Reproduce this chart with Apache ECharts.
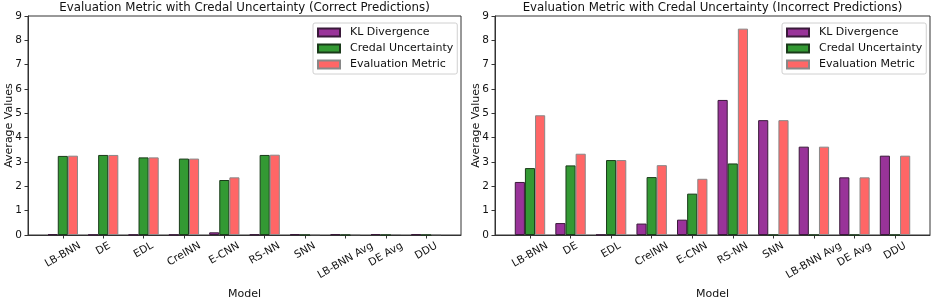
<!DOCTYPE html>
<html>
<head>
<meta charset="utf-8">
<script src="https://cdn.jsdelivr.net/npm/echarts@6/dist/echarts.min.js"></script>
<style>
html,body{margin:0;padding:0;background:#fff;}
#c{width:934px;height:302px;}
</style>
</head>
<body>
<div id="c"></div>
<script>
const categories = ['LB-BNN','DE','EDL','CreINN','E-CNN','RS-NN','SNN','LB-BNN Avg','DE Avg','DDU'];
const yTicks = [0,1,2,3,4,5,6,7,8,9];
const seriesNames = ['KL Divergence','Credal Uncertainty','Evaluation Metric'];
const titles = ['Evaluation Metric with Credal Uncertainty (Correct Predictions)',
                'Evaluation Metric with Credal Uncertainty (Incorrect Predictions)'];

const correctKL   = [0.03,0.01,0.01,0.01,0.11,0.02,0.03,0.03,0.04,0.03];
const correctCred = [3.25,3.29,3.19,3.14,2.26,3.29,0,0,0,0];
const correctEval = [3.26,3.29,3.19,3.14,2.37,3.30,0.03,0.03,0.04,0.03];

const incorrectKL   = [2.18,0.49,0.01,0.47,0.63,5.55,4.72,3.63,2.37,3.26];
const incorrectCred = [2.75,2.86,3.08,2.38,1.70,2.94,0,0,0,0];
const incorrectEval = [4.92,3.34,3.08,2.87,2.31,8.48,4.72,3.63,2.37,3.26];

const colors = ['#993399','#339933','#ff6666'];
const borders = ['#3a1a3a','#1a3a1a','#888888'];
const FONT = 'DejaVu Sans';
const LABEL_SIZE = 10.5;
const ROT = 30;

const grids = [
  {left:28, right:473, top:16, bottom:67},
  {left:495, right:4, top:16, bottom:67}
];
const panels = [[correctKL,correctCred,correctEval],[incorrectKL,incorrectCred,incorrectEval]];
const tickIdx = categories.map((_, i) => i);

// rotated tick labels centred on the tick, with their rotated bounding box hanging below the axis
const ctx = document.createElement('canvas').getContext('2d');
ctx.font = LABEL_SIZE + 'px "' + FONT + '"';
const rich = {};
categories.forEach((name, i) => {
  const w = ctx.measureText(name).width;
  const s = Math.sin(ROT*Math.PI/180), c = Math.cos(ROT*Math.PI/180);
  const dy = 10 + (w * s) / 2;           // wanted downward shift of the label centre
  rich['l'+i] = {
    fontFamily:FONT, fontSize:LABEL_SIZE, color:'#111',
    padding:[Math.round(2*c*dy*10)/10, Math.round(2*s*dy*10)/10, 0, 0]
  };
});

const option = {
  animation:false,
  backgroundColor:'#fff',
  textStyle:{fontFamily:FONT},
  title: grids.map((g,k)=>({
    text: titles[k],
    left: k===0 ? (28+461)/2 : (495+930)/2,
    textAlign:'center',
    top:2,
    padding:0,
    textStyle:{fontFamily:FONT,fontSize:11.8,fontWeight:'normal',color:'#111'}
  })),
  legend: grids.map((g,k)=>({
    orient:'vertical',
    left: k===0 ? 313 : 782,
    top:23,
    data: seriesNames,
    icon:'rect',
    itemWidth:22,
    itemHeight:8,
    itemGap:5,
    padding:[4,4,4,4],
    borderColor:'#d0d0d0',
    borderWidth:1,
    borderRadius:2,
    backgroundColor:'#fff',
    textStyle:{fontFamily:FONT,fontSize:11,color:'#111',padding:[0,0,0,5]}
  })),
  grid: grids.map(g=>Object.assign({show:true,borderColor:'#333',borderWidth:1,backgroundColor:'transparent',outerBoundsMode:'none',containLabel:false},g)),
  xAxis: grids.map((g,k)=>({
    type:'value',
    gridIndex:k,
    min:-0.8625,
    max:9.8625,
    name:'Model',
    nameLocation:'middle',
    nameGap:54,
    nameMoveOverlap:false,
    nameTextStyle:{fontFamily:FONT,fontSize:11,color:'#111'},
    splitLine:{show:false},
    axisLine:{show:true,onZero:false,lineStyle:{color:'#333',width:1}},
    axisTick:{show:true,length:3.5,customValues:tickIdx,lineStyle:{color:'#333'}},
    axisLabel:{
      customValues:tickIdx,
      formatter:v=>{const i=Math.round(v); return categories[i] ? '{l'+i+'|'+categories[i]+'}' : '';},
      rich:rich,
      rotate:ROT,
      align:'center',
      verticalAlign:'middle',
      margin:0,
      hideOverlap:false,
      fontFamily:FONT,fontSize:LABEL_SIZE,color:'#111'
    }
  })),
  yAxis: grids.map((g,k)=>({
    type:'value',
    gridIndex:k,
    min:yTicks[0],
    max:yTicks[yTicks.length-1],
    interval:1,
    name:'Average Values',
    nameLocation:'middle',
    nameGap:13,
    nameMoveOverlap:false,
    nameTextStyle:{fontFamily:FONT,fontSize:11,color:'#111'},
    splitLine:{show:false},
    axisLine:{show:true,onZero:false,lineStyle:{color:'#333',width:1}},
    axisTick:{show:true,length:3.5,lineStyle:{color:'#333'}},
    axisLabel:{margin:6,fontFamily:FONT,fontSize:10.5,color:'#111'}
  })),
  series: []
};

panels.forEach((vals,k)=>{
  vals.forEach((arr,s)=>{
    option.series.push({
      type:'bar',
      name:seriesNames[s],
      xAxisIndex:k,
      yAxisIndex:k,
      data:arr.map((v,i)=>[i,v]),
      barGap:'0%',
      barCategoryGap:'25%',
      itemStyle:{color:colors[s],borderColor:borders[s],borderWidth:1}
    });
  });
});

const chart = echarts.init(document.getElementById('c'),null,{renderer:'canvas'});
chart.setOption(option);
</script>
</body>
</html>
